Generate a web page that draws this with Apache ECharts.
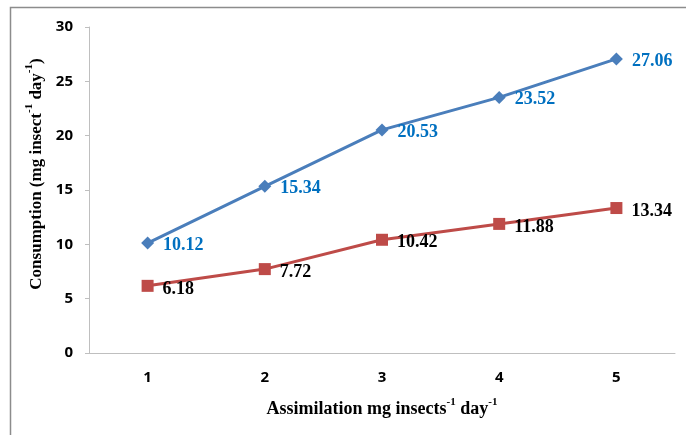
<!DOCTYPE html>
<html>
<head>
    <meta charset="utf-8">
    <title>Consumption vs Assimilation</title>
    <script src="https://cdn.jsdelivr.net/npm/echarts@6/dist/echarts.min.js"></script>
    <style>
        html, body { margin: 0; padding: 0; background: #fff; }
    </style>
</head>
<body>
    <div id="chart" style="width: 686px;height:435px;"></div>
    <script type="text/javascript">
        // 數據
        var categories = ['1', '2', '3', '4', '5'];
        var consumption = [10.12, 15.34, 20.53, 23.52, 27.06];
        var assimilation = [6.18, 7.72, 10.42, 11.88, 13.34];

        var serif = 'Liberation Serif';
        var sans = 'Open Sans';

        function supRich(size) {
            return {
                t: { fontFamily: serif, fontWeight: 'bold', fontSize: size, color: '#000', lineHeight: 22, verticalAlign: 'bottom' },
                s: { fontFamily: serif, fontWeight: 'bold', fontSize: 11, color: '#000', lineHeight: 22, verticalAlign: 'top', padding: [1, 0, 0, 0] }
            };
        }

        var option = {
            animation: false,
            backgroundColor: '#fff',
            graphic: [{
                type: 'rect',
                left: 8, top: 5,
                shape: { width: 700, height: 450 },
                style: { fill: 'none', stroke: '#8c8c8c', lineWidth: 1.5 },
                z: -1
            }],
            grid: { left: 89, top: 27, right: 11, bottom: 82, containLabel: false },
            xAxis: {
                type: 'category',
                data: categories,
                boundaryGap: true,
                axisLine: { lineStyle: { color: '#bfbfbf', width: 1 } },
                axisTick: { length: 5, lineStyle: { color: '#bfbfbf' } },
                axisLabel: { color: '#000', fontFamily: sans, fontWeight: 'bold', fontSize: 15, margin: 17 },
                name: '{t|Assimilation mg insects}{s|-1}{t| day}{s|-1}',
                nameLocation: 'middle',
                nameGap: 43,
                nameTextStyle: { rich: supRich(18) }
            },
            yAxis: {
                type: 'value',
                min: 0, max: 30, interval: 5,
                axisLine: { show: true, lineStyle: { color: '#bfbfbf', width: 1 } },
                axisTick: { show: true, length: 4, lineStyle: { color: '#bfbfbf' } },
                splitLine: { show: false },
                axisLabel: { color: '#000', fontFamily: sans, fontWeight: 'bold', fontSize: 15, margin: 16 },
                name: '{t|Consumption (mg insect}{s|-1}{t| day}{s|-1}{t|)}',
                nameLocation: 'middle',
                nameGap: 41,
                nameRotate: 90,
                nameTextStyle: { rich: supRich(17), padding: [0, 0, 0, 32] }
            },
            series: [
                {
                    name: 'Consumption',
                    type: 'line',
                    data: consumption,
                    symbol: 'diamond',
                    symbolSize: 13,
                    lineStyle: { color: '#4a7ebb', width: 3 },
                    itemStyle: { color: '#4a7ebb' },
                    label: {
                        show: true, position: 'right', distance: 9, offset: [0, 2],
                        color: '#0070c0', fontFamily: serif, fontWeight: 'bold', fontSize: 18,
                        formatter: function (p) { return p.value.toFixed(2); }
                    }
                },
                {
                    name: 'Assimilation',
                    type: 'line',
                    data: assimilation,
                    symbol: 'rect',
                    symbolSize: 12,
                    lineStyle: { color: '#be4b48', width: 3 },
                    itemStyle: { color: '#be4b48' },
                    label: {
                        show: true, position: 'right', distance: 9, offset: [0, 3],
                        color: '#000', fontFamily: serif, fontWeight: 'bold', fontSize: 18,
                        formatter: function (p) { return p.value.toFixed(2); }
                    }
                }
            ]
        };

        var chart = echarts.init(document.getElementById('chart'));
        chart.setOption(option);
    </script>
</body>
</html>
